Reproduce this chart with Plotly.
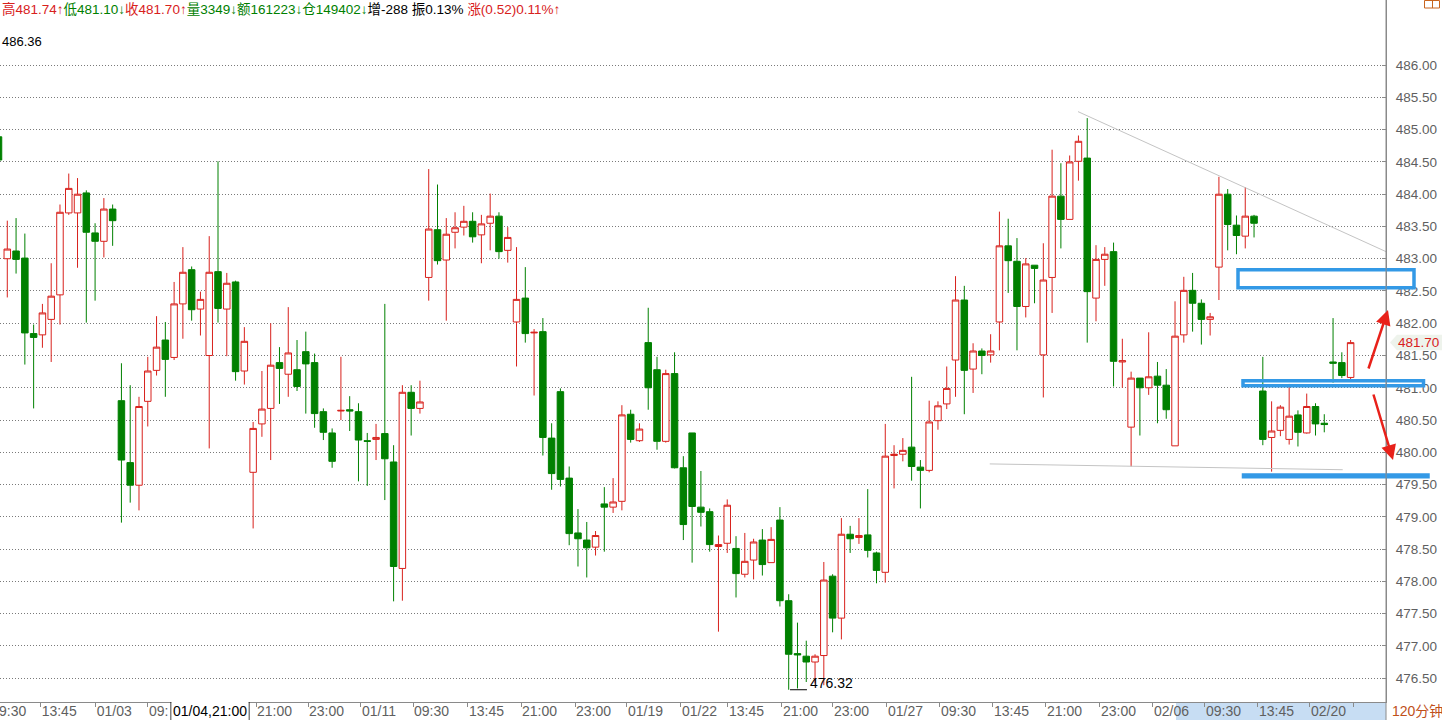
import plotly.graph_objects as go

# ---------------- data ----------------
# bar positions: one 120-minute bar per slot, -1 is the bar cut by the left edge
IDX = list(range(-1, 154))

OPEN = [484.89,
        483.00, 483.12, 483.01, 481.84, 481.82, 482.06, 482.44, 483.71, 483.71, 484.02,
        483.40, 483.27, 483.77, 480.80, 479.84, 479.49, 480.79, 481.27, 481.74, 481.47,
        482.30, 482.83, 482.22, 481.50, 482.80, 482.22, 482.64, 481.26, 479.69, 480.44,
        480.68, 481.39, 481.21, 481.28, 481.56, 481.39, 480.63, 480.30, 480.64, 480.66,
        480.63, 480.18, 480.20, 480.29, 479.85, 478.20, 480.93, 480.68, 482.71, 483.45,
        482.98, 483.41, 483.49, 483.58, 483.37, 483.55, 483.66, 483.13, 482.02, 482.39,
        481.85, 481.87, 480.22, 480.94, 479.60, 478.75, 478.64, 478.53, 479.20, 479.15,
        479.24, 480.59, 480.18, 481.70, 481.28, 480.17, 481.22, 479.76, 480.30, 479.15,
        479.08, 478.54, 478.59, 478.51, 478.11, 478.33, 478.64, 478.29, 478.95, 477.70,
        476.88, 476.84, 476.75, 476.85, 478.08, 477.43, 478.73, 478.68, 478.72, 478.44,
        478.14, 479.95, 479.97, 480.08, 479.77, 479.72, 480.49, 480.75, 481.43, 482.36,
        481.29, 481.57, 481.51, 482.02, 483.20, 482.96, 482.26, 482.90, 481.51, 482.71,
        483.97, 483.61, 484.51, 484.56, 482.39, 482.99, 483.11, 481.40, 480.39, 481.15,
        481.00, 481.18, 481.04, 480.10, 481.82, 482.51, 482.31, 482.06, 482.87, 484.00,
        483.52, 483.35, 483.66, 480.95, 480.23, 480.34, 480.20, 480.58, 480.30, 480.71,
        480.45, 481.40, 481.39, 481.16]
HIGH = [486.36,
        483.59, 483.63, 483.39, 481.98, 482.30, 482.93, 483.84, 484.32, 484.25, 484.06,
        483.55, 483.94, 483.84, 481.38, 481.04, 480.86, 481.48, 482.11, 482.02, 482.64,
        483.18, 482.88, 482.49, 483.35, 484.51, 482.78, 482.66, 481.94, 480.47, 481.26,
        482.00, 481.63, 482.25, 481.74, 481.87, 481.53, 480.68, 480.37, 481.48, 480.87,
        480.76, 480.30, 480.44, 482.30, 480.11, 481.04, 481.04, 481.11, 484.39, 484.15,
        483.63, 483.72, 483.82, 483.72, 483.68, 484.01, 483.72, 483.49, 483.18, 482.87,
        481.91, 482.08, 480.45, 480.99, 479.78, 479.12, 478.92, 478.78, 479.46, 479.60,
        480.73, 480.66, 480.45, 482.24, 481.48, 481.28, 481.55, 479.94, 480.30, 479.71,
        479.13, 478.71, 479.27, 478.70, 478.75, 478.66, 478.81, 478.84, 479.15, 477.80,
        477.36, 477.08, 476.87, 478.30, 478.11, 478.98, 478.86, 478.98, 479.43, 478.46,
        480.44, 480.11, 480.22, 481.17, 479.88, 480.80, 480.79, 481.33, 482.73, 482.58,
        481.69, 481.61, 481.83, 483.73, 483.62, 483.32, 483.01, 482.90, 483.24, 484.69,
        484.48, 484.60, 484.91, 485.18, 483.21, 483.18, 483.25, 481.76, 481.25, 481.15,
        481.86, 481.40, 481.29, 482.34, 482.72, 482.78, 482.37, 482.16, 484.27, 484.08,
        483.67, 484.11, 483.68, 481.48, 480.79, 480.73, 481.06, 480.65, 480.91, 480.76,
        480.59, 482.08, 481.55, 481.74]
LOW = [484.40,
       482.40, 482.77, 481.36, 480.68, 481.62, 481.40, 481.98, 483.68, 482.86, 482.01,
       482.35, 483.02, 483.20, 478.91, 479.22, 479.10, 480.40, 481.19, 480.86, 481.43,
       481.76, 482.04, 481.81, 480.06, 482.01, 481.49, 481.11, 481.05, 478.82, 480.24,
       479.88, 480.75, 480.86, 480.95, 480.60, 480.38, 480.19, 479.76, 480.50, 480.33,
       479.55, 479.48, 479.88, 479.26, 477.69, 477.70, 480.26, 480.60, 482.35, 482.91,
       482.04, 483.16, 483.36, 483.25, 482.93, 483.13, 483.00, 482.94, 481.33, 481.70,
       480.88, 479.95, 479.42, 479.47, 478.56, 478.23, 478.06, 478.40, 478.46, 479.06,
       479.10, 480.15, 480.16, 480.66, 480.04, 480.15, 479.75, 478.64, 478.29, 478.85,
       478.46, 477.22, 478.44, 477.75, 478.06, 478.03, 478.09, 478.29, 477.61, 476.32,
       476.34, 476.44, 476.42, 476.39, 477.21, 477.10, 478.44, 478.58, 478.37, 477.97,
       477.98, 479.44, 479.86, 479.56, 479.13, 479.69, 480.35, 480.67, 480.86, 480.59,
       480.92, 481.21, 481.39, 481.58, 482.47, 481.58, 482.09, 482.31, 480.85, 482.16,
       483.16, 483.61, 484.21, 481.70, 482.03, 482.58, 481.02, 481.00, 479.78, 480.26,
       480.89, 480.45, 480.52, 480.10, 481.70, 481.87, 481.67, 481.81, 482.36, 483.13,
       483.07, 483.16, 483.33, 480.11, 479.70, 480.25, 480.12, 480.09, 480.29, 480.26,
       480.31, 481.08, 481.15, 481.10]
CLOSE = [484.53,
         483.15, 482.99, 481.85, 481.78, 482.16, 482.42, 483.72, 484.09, 484.00, 483.41,
         483.27, 483.77, 483.59, 479.88, 479.49, 480.71, 481.26, 481.63, 481.44, 482.30,
         482.79, 482.21, 482.37, 482.79, 482.23, 482.62, 481.25, 481.72, 480.37, 480.67,
         481.35, 481.30, 481.54, 481.02, 481.37, 480.60, 480.31, 479.86, 480.65, 480.64,
         480.19, 480.17, 480.23, 479.90, 478.23, 480.93, 480.68, 480.78, 483.46, 482.97,
         483.38, 483.48, 483.58, 483.34, 483.54, 483.66, 483.11, 483.33, 482.37, 481.84,
         481.86, 480.23, 479.67, 479.58, 478.74, 478.66, 478.52, 478.71, 479.15, 479.23,
         480.58, 480.20, 480.36, 481.00, 480.17, 481.22, 479.76, 478.88, 479.16, 479.07,
         478.57, 478.57, 479.18, 478.12, 478.31, 478.61, 478.26, 478.65, 477.70, 476.87,
         476.86, 476.75, 476.84, 478.02, 477.43, 478.73, 478.66, 478.71, 478.48, 478.17,
         479.94, 479.97, 480.03, 479.78, 479.72, 480.47, 480.72, 480.99, 482.36, 481.27,
         481.57, 481.50, 481.57, 483.20, 482.97, 482.26, 482.92, 482.85, 482.67, 483.97,
         483.61, 484.50, 484.82, 482.49, 482.99, 483.07, 481.41, 481.42, 481.15, 481.00,
         481.17, 481.04, 480.66, 481.80, 482.51, 482.31, 482.06, 482.10, 484.00, 483.53,
         483.36, 483.66, 483.55, 480.20, 480.33, 480.70, 480.56, 480.31, 480.71, 480.44,
         480.43, 481.38, 481.19, 481.70]

Y_TICKS = [476.5, 477.0, 477.5, 478.0, 478.5, 479.0, 479.5, 480.0, 480.5,
           481.0, 481.5, 482.0, 482.5, 483.0, 483.5, 484.0, 484.5, 485.0,
           485.5, 486.0]

X_TICK_POS = [3.8, 10.08, 16.02, 22.06, 28.33, 34.25, 40.28, 46.21, 52.47,
              58.51, 64.66, 70.58, 76.73, 82.08, 88.23, 94.04, 100.19, 106.23,
              112.26, 118.3, 124.45, 130.49, 136.41, 142.45, 148.37, 153.38]
# the label at 16.02 is partly and the one at 22.06 fully hidden by the crosshair time box
X_TICK_TEXT = ["13:45", "01/03", "09:", "", "21:00", "23:00", "01/11",
               "09:30", "13:45", "21:00", "23:00", "01/19", "01/22", "13:45",
               "21:00", "23:00", "01/27", "09:30", "13:45", "21:00", "23:00",
               "02/06", "09:30", "13:45", "02/20", ""]

HEADER = [("高481.74↑", "up"), ("低481.10↓", "down"), ("收481.70↑", "up"),
          ("量3349↓", "down"), ("额161223↓", "down"), ("仓149402↓", "down"),
          ("增-288 ", "flat"), ("振0.13% ", "flat"), ("涨(0.52)0.11%↑", "up")]

MAX_LABEL = 486.36
MIN_LABEL = 476.32
LAST_PRICE = 481.70
CROSS_LABEL = "01/04,21:00"

# hand-drawn analysis lines (bar index, price)
TREND_DOWN = [(121.95, 485.28), (157.03, 483.11)]
TREND_FLAT = [(111.9, 479.82), (152.1, 479.73)]
# boxes drawn by the user (price bands)
BOXES = [(482.55, 482.83), (481.03, 481.11), (479.62, 479.65)]

# ---------------- styling ----------------
RED = "#d8211c"
GREEN = "#008000"
BLUE = "#3399e6"
AXIS = "#8a8a8a"
TXT = "#5f5f5f"
FONT = "Liberation Sans, Arial, Noto Sans CJK SC"

W, H = 1442, 720
ML, MR, MT, MB = 0, 56, 0, 18
PW, PH = W - ML - MR, H - MT - MB


def px(x):
    return x / PW


def py(y):
    return 1 - y / PH


fig = go.Figure()
fig.add_trace(go.Candlestick(
    x=IDX, open=OPEN, high=HIGH, low=LOW, close=CLOSE,
    increasing=dict(line=dict(color=RED, width=1), fillcolor="white"),
    decreasing=dict(line=dict(color=GREEN, width=1), fillcolor=GREEN),
    whiskerwidth=0, hoverinfo="skip", showlegend=False,
))

shapes = []
# trend lines
shapes.append(dict(type="line", xref="x", yref="y",
                   x0=TREND_DOWN[0][0], y0=TREND_DOWN[0][1],
                   x1=TREND_DOWN[1][0], y1=TREND_DOWN[1][1],
                   line=dict(color="#c4c4c4", width=1)))
shapes.append(dict(type="line", xref="x", yref="y",
                   x0=TREND_FLAT[0][0], y0=TREND_FLAT[0][1],
                   x1=TREND_FLAT[1][0], y1=TREND_FLAT[1][1],
                   line=dict(color="#c4c4c4", width=1)))
# blue boxes
box_x = [(1238, 1414), (1243, 1423.5), (1243.5, 1428)]
for (x0, x1), (y0, y1) in zip(box_x, BOXES):
    shapes.append(dict(type="rect", xref="paper", yref="y",
                       x0=px(x0), x1=px(x1), y0=y0, y1=y1,
                       line=dict(color=BLUE, width=3.5), fillcolor="rgba(0,0,0,0)"))
# min-low marker
shapes.append(dict(type="line", xref="x", yref="y", x0=89.15, x1=91.08,
                   y0=MIN_LABEL, y1=MIN_LABEL, line=dict(color="#000", width=1)))
# selection band on the time axis
shapes.append(dict(type="rect", xref="paper", yref="paper", layer="below",
                   x0=px(1176), x1=1, y0=py(PH + 18), y1=0,
                   line=dict(width=0), fillcolor="#c7ddf3"))
# right axis line extended through the time strip
shapes.append(dict(type="line", xref="paper", yref="paper", x0=1, x1=1,
                   y0=py(PH + 18), y1=1, line=dict(color=AXIS, width=1)))
# crosshair time box borders
for xx in (171, 249):
    shapes.append(dict(type="line", xref="paper", yref="paper", x0=px(xx), x1=px(xx),
                       y0=py(PH + 18), y1=0, line=dict(color="#000", width=1)))
# last price tag
tag = (f"M {px(1390)},{LAST_PRICE} L {px(1397)},{LAST_PRICE + 0.12} "
       f"L {px(1442)},{LAST_PRICE + 0.12} L {px(1442)},{LAST_PRICE - 0.12} "
       f"L {px(1397)},{LAST_PRICE - 0.12} Z")
shapes.append(dict(type="path", xref="paper", yref="y", path=tag,
                   fillcolor="#eef3ec", line=dict(width=0)))
# top-right icon
shapes.append(dict(type="rect", xref="paper", yref="paper",
                   x0=px(1424.5), x1=px(1439.5), y0=py(8), y1=py(0.5),
                   line=dict(color="#c8641e", width=1), fillcolor="white"))
shapes.append(dict(type="line", xref="paper", yref="paper",
                   x0=px(1432.5), x1=px(1432.5), y0=py(8), y1=py(0.5),
                   line=dict(color="#c8641e", width=1)))

colors = {"up": RED, "down": GREEN, "flat": "#000000"}
header = "".join(f"<span style='color:{colors[k]}'>{t}</span>" for t, k in HEADER)

annotations = [
    dict(text=header, xref="paper", yref="paper", x=0, y=py(9), xanchor="left",
         yanchor="middle", showarrow=False, font=dict(size=13.5, family=FONT)),
    dict(text=f"{MAX_LABEL:.2f}", xref="paper", yref="y", x=0, y=MAX_LABEL,
         xanchor="left", yanchor="middle", showarrow=False,
         font=dict(size=13, family=FONT, color="#000")),
    dict(text=f"{MIN_LABEL:.2f}", xref="x", yref="y", x=91.25, y=476.43,
         xanchor="left", yanchor="middle", showarrow=False,
         font=dict(size=14, family=FONT, color="#000")),
    dict(text=f"{LAST_PRICE:.2f}", xref="paper", yref="y", x=px(1396), y=LAST_PRICE,
         xanchor="left", yanchor="middle", showarrow=False,
         font=dict(size=13.5, family=FONT, color=RED)),
    dict(text="120分钟", xref="paper", yref="paper", x=px(1390), y=py(PH + 9),
         xanchor="left", yanchor="middle", showarrow=False,
         font=dict(size=14, family=FONT, color="#c0501a")),
    dict(text=CROSS_LABEL, xref="paper", yref="paper", x=px(210), y=py(PH + 9),
         xanchor="center", yanchor="middle", showarrow=False, bgcolor="white",
         font=dict(size=14, family=FONT, color="#000")),
    dict(text="9:30", xref="paper", yref="paper", x=px(28), y=py(PH + 9),
         xanchor="right", yanchor="middle", showarrow=False,
         font=dict(size=14, family=FONT, color=TXT)),
    # red arrows
    dict(text="", xref="paper", yref="paper", x=px(1388), y=py(310),
         ax=-20, ay=60, showarrow=True, arrowhead=2, arrowsize=1.2,
         arrowwidth=2.5, arrowcolor="#e8211a"),
    dict(text="", xref="paper", yref="paper", x=px(1393), y=py(460),
         ax=-20, ay=-67, showarrow=True, arrowhead=2, arrowsize=1.2,
         arrowwidth=2.5, arrowcolor="#e8211a"),
]

fig.update_layout(
    width=W, height=H,
    margin=dict(l=ML, r=MR, t=MT, b=MB, pad=0),
    paper_bgcolor="white", plot_bgcolor="white",
    boxgap=0.26, boxgroupgap=0,
    showlegend=False,
    shapes=shapes, annotations=annotations,
    font=dict(family=FONT),
    xaxis=dict(range=[-0.83, 157.03], rangeslider=dict(visible=False),
               showgrid=False, zeroline=False, showline=True, linecolor=AXIS,
               ticks="outside", ticklen=4, tickcolor=AXIS,
               tickvals=X_TICK_POS, ticktext=X_TICK_TEXT,
               ticklabelposition="outside right", ticklabelstandoff=-4,
               tickfont=dict(size=14, color=TXT, family=FONT),
               automargin=False, fixedrange=True),
    yaxis=dict(range=[476.13, 487.01], side="right",
               tickvals=Y_TICKS, ticktext=[f"{v:.2f}" for v in Y_TICKS],
               showgrid=True, gridcolor="#7a7a7a", gridwidth=1, griddash="1px,2px",
               zeroline=False, showline=True, linecolor=AXIS,
               ticks="inside", ticklen=4, tickcolor=AXIS,
               ticklabelstandoff=6,
               tickfont=dict(size=13.5, color=TXT, family=FONT),
               automargin=False, fixedrange=True),
)

fig.write_html("out.html", config={"displayModeBar": False},
               post_script="document.body.style.margin='0';document.body.style.overflow='hidden';")
